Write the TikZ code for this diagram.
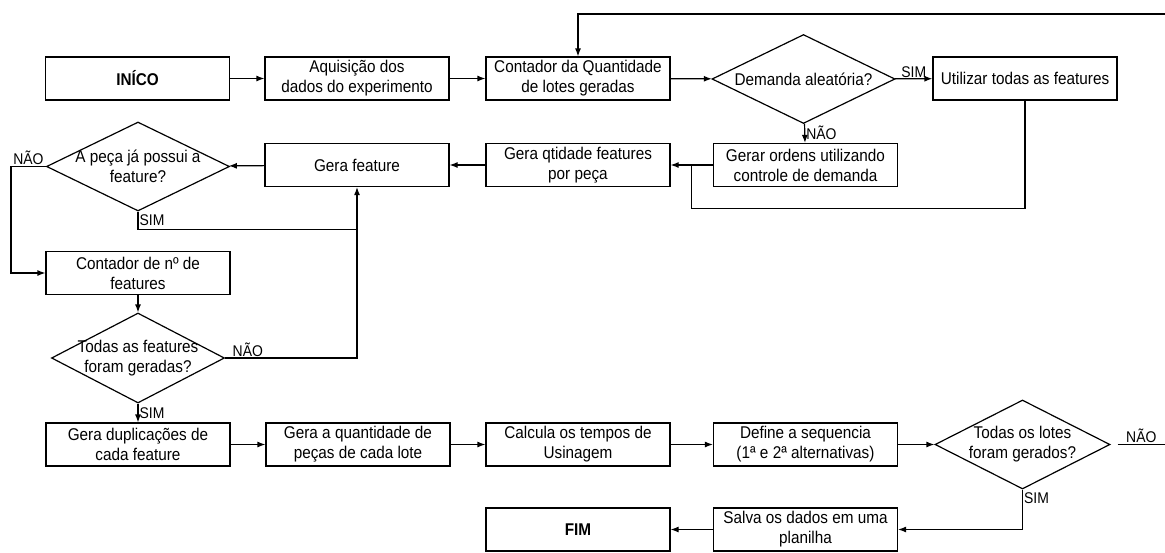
\documentclass[tikz,border=0pt]{standalone}
\usepackage{fontspec}
\setmainfont{Liberation Sans}[FakeStretch=0.9]
\usetikzlibrary{shapes.geometric,positioning,arrows.meta,calc}

\tikzset{
  procbox/.style={draw, line width=1.2pt, minimum width=184pt, minimum height=43pt,
    inner sep=0pt, align=center, font=\fontsize{17}{20}\selectfont},
  decision/.style={draw, diamond, line width=1.2pt, minimum width=183pt,
    minimum height=89pt, inner sep=0pt},
  dtext/.style={align=center, font=\fontsize{17}{20}\selectfont},
  flow/.style={->, line width=1.2pt},
  link/.style={line width=1.2pt},
  tag/.style={font=\fontsize{15.5}{17}\selectfont, inner sep=1pt},
}

\begin{document}
\begin{tikzpicture}[>={Latex[length=8pt,width=6pt]}, x=1pt, y=-1pt]
  \useasboundingbox (0,0) rectangle (1165,552);
%%
  % first row
  \node[procbox] (inicio) at (137.5,78.5) {\textbf{INÍCO}};
  \node[procbox] (aquis) at (357,78.5) {Aquisição dos\\dados do experimento};
  \node[procbox] (contlote) at (578,78.5) {Contador da Quantidade\\de lotes geradas};
  \node[decision] (demanda) at (803.5,79) [label={[dtext]center:Demanda aleatória?}] {};
  \node[procbox] (utilizar) at (1025,78.5) {Utilizar todas as features};
  % second row
  \node[procbox] (gerar) at (805.5,165) {Gerar ordens utilizando\\controle de demanda};
  \node[procbox] (qtd) at (578,165) {Gera qtidade features\\por peça};
  \node[procbox] (gerafeat) at (357,165) {Gera feature};
  \node[decision] (peca) at (138,166.5) [label={[dtext]center:A peça já possui a\\feature?}] {};
  % left column
  \node[procbox] (contfeat) at (138,273) {Contador de nº de\\features};
  \node[decision, minimum width=173pt, minimum height=90pt] (feats) at (138,358)
    [label={[dtext]center:Todas as features\\foram geradas?}] {};
  % third row
  \node[procbox] (dupl) at (138,444.5) {Gera duplicações de\\cada feature};
  \node[procbox] (quant) at (358,444.5) {Gera a quantidade de\\peças de cada lote};
  \node[procbox] (calc) at (578,444.5) {Calcula os tempos de\\Usinagem};
  \node[procbox] (define) at (805.5,444.5) {Define a sequencia\\(1ª e 2ª alternativas)};
  \node[decision, minimum width=175pt] (lotes) at (1022.5,444.5)
    [label={[dtext]center:Todas os lotes\\foram gerados?}] {};
  % last row
  \node[procbox] (salva) at (805.5,529.5) {Salva os dados em uma\\planilha};
  \node[procbox] (fim) at (578,529.5) {\textbf{FIM}};
  % free ends
  \coordinate (loopin) at (1165,14);
  \coordinate (loopout) at (1165,444.5);
  \coordinate (jn) at ($(qtd.east)!0.5!(gerar.west)$);
%%
  \draw[flow] (inicio) -- (aquis);
  \draw[flow] (aquis) -- (contlote);
  \draw[flow] (contlote) -- (demanda);
  \draw[flow] (demanda) -- node[tag, above] {SIM} (utilizar);
  \draw[flow] (demanda) -- node[tag, right] {NÃO} (gerar);
  \draw[flow] (loopin) -| (contlote);
  \draw[flow] (gerar) -- (qtd);
  \draw[link] (utilizar.south) -- ++(0,108) -| (jn);
  \draw[flow] (qtd) -- (gerafeat);
  \draw[flow] (gerafeat) -- (peca);
  \draw[flow] (peca.west) -- node[tag, above] {NÃO} ++(-35,0) |- (contfeat.west);
  \draw[flow] (peca.south) -- node[tag, right] {SIM} ++(0,18) -| (gerafeat.south);
  \draw[flow] (contfeat) -- (feats);
  \draw[link] (feats.east) node[tag, above right, xshift=6pt] {NÃO}
    -| ([yshift=-43pt]gerafeat.south);
  \draw[flow] (feats) -- node[tag, right] {SIM} (dupl);
  \draw[flow] (dupl) -- (quant);
  \draw[flow] (quant) -- (calc);
  \draw[flow] (calc) -- (define);
  \draw[flow] (define) -- (lotes);
  \draw[link] ([xshift=7pt]lotes.east) -- node[tag, above] {NÃO} (loopout);
  \draw[flow] (lotes.south) |- node[tag, right, pos=0.11] {SIM} (salva.east);
  \draw[flow] (salva) -- (fim);
%
\end{tikzpicture}
\end{document}
